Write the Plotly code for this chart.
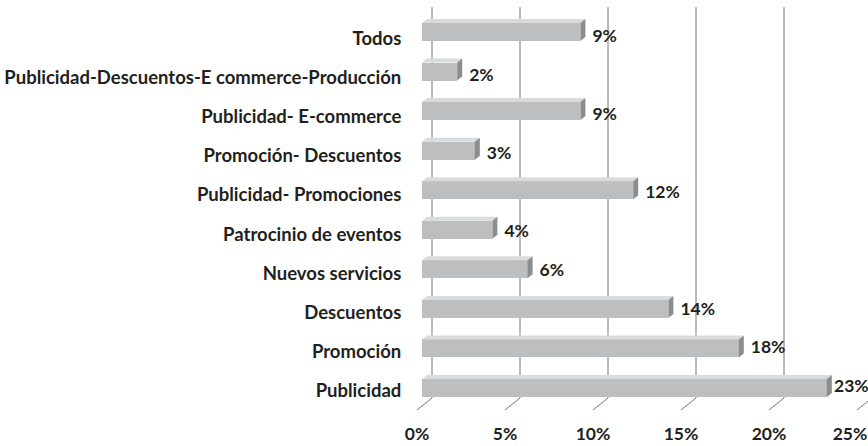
import plotly.graph_objects as go

# ---- data (bottom to top) ----
categories = ["Publicidad", "Promoción", "Descuentos", "Nuevos servicios",
              "Patrocinio de eventos", "Publicidad- Promociones",
              "Promoción- Descuentos", "Publicidad- E-commerce",
              "Publicidad-Descuentos-E commerce-Producción", "Todos"]
values = [23, 18, 14, 6, 4, 12, 3, 9, 2, 9]
value_labels = ["23%", "18%", "14%", "6%", "4%", "12%", "3%", "9%", "2%", "9%"]
tick_values = [0, 5, 10, 15, 20, 25]
tick_labels = ["0%", "5%", "10%", "15%", "20%", "25%"]

# ---- geometry / style (pixels) ----
W, H = 868, 446
ML, MB = 408, 36           # plot area: x 408..868, y 0..410
PX_PER_UNIT = 17.6         # px per 1 %
X0_PX = 422                # front face zero
ROW_PX = 39.56
ROW0_PX = 388              # centre of bottom bar front face
BAR_H_PX = 18
DEPTH_DX, DEPTH_DY = 5, 4  # bar depth in px
plot_w = W - ML
plot_h = H - MB

def xr(zero_px):
    return [(ML - zero_px) / PX_PER_UNIT, (W - zero_px) / PX_PER_UNIT]

def yr(row0_px, row_px):
    return [(row0_px - plot_h) / row_px, row0_px / row_px]

ddx = DEPTH_DX / PX_PER_UNIT
ddy = DEPTH_DY / ROW_PX
bw = BAR_H_PX / ROW_PX
ys = list(range(len(categories)))

FRONT = "#bdbec0"
TOP = "#dadbdc"
END = "#8b8c8e"
TXT = "#231f20"
FONT = "Lato"

fig = go.Figure()

# front faces
fig.add_trace(go.Bar(x=values, y=ys, orientation="h", width=bw,
                     marker=dict(color=FRONT, line=dict(width=0)),
                     hoverinfo="skip", showlegend=False))

# top faces and end faces
tx, ty, ex, ey = [], [], [], []
for v, y in zip(values, ys):
    t = y + bw / 2
    b = y - bw / 2
    tx += [0, v, v + ddx, ddx, 0, None]
    ty += [t, t, t + ddy, t + ddy, t, None]
    ex += [v, v + ddx, v + ddx, v, v, None]
    ey += [b, b + ddy, t + ddy, t, b, None]
fig.add_trace(go.Scatter(x=tx, y=ty, mode="lines", fill="toself", fillcolor=TOP,
                         line=dict(width=0, color=TOP), hoverinfo="skip", showlegend=False))
fig.add_trace(go.Scatter(x=ex, y=ey, mode="lines", fill="toself", fillcolor=END,
                         line=dict(width=0, color=END), hoverinfo="skip", showlegend=False))

# value labels (own vertical scale)
label_gap = 7 / PX_PER_UNIT
label_max = xr(X0_PX)[1] - 34 / PX_PER_UNIT
lx = [min(v + ddx + label_gap, label_max) for v in values]
fig.add_trace(go.Scatter(x=lx, y=ys, yaxis="y3", mode="text", text=value_labels,
                         textposition="middle right", cliponaxis=False,
                         textfont=dict(family=FONT, size=17.5, color=TXT, weight="bold"),
                         hoverinfo="skip", showlegend=False))

# category labels axis carrier
fig.add_trace(go.Scatter(x=[None] * len(ys), y=ys, yaxis="y2", mode="markers",
                         hoverinfo="skip", showlegend=False))

# x tick labels sit at the front edge of the floor; the last one is kept inside the page
tick_font = dict(family=FONT, size=17.5, color=TXT, weight="bold")
front_dx = -5 / PX_PER_UNIT
x_max = xr(X0_PX)[1]
tick_x = [min(v + front_dx, x_max - 18 / PX_PER_UNIT) for v in tick_values]
fig.add_trace(go.Scatter(x=tick_x, y=[0] * len(tick_values), yaxis="y4", mode="text",
                         text=tick_labels, textposition="middle center", cliponaxis=False,
                         textfont=tick_font, hoverinfo="skip", showlegend=False))

# gridlines: back wall + floor slant
back_dx = 10 / PX_PER_UNIT
y_top = (ROW0_PX - 7) / ROW_PX
y_back = (ROW0_PX - 398) / ROW_PX
y_front = (ROW0_PX - 410) / ROW_PX
shapes = []
for v in tick_values:
    shapes.append(dict(type="path", xref="x", yref="y", layer="below",
                       path=f"M {v+back_dx},{y_top} L {v+back_dx},{y_back} L {v+front_dx},{y_front}",
                       line=dict(color="#777777", width=1)))

fig.update_layout(
    template="none",
    width=W, height=H, margin=dict(l=ML, r=0, t=0, b=0, pad=0, autoexpand=False),
    plot_bgcolor="rgba(0,0,0,0)", paper_bgcolor="white",
    shapes=shapes, bargap=0,
    xaxis=dict(range=xr(X0_PX), showgrid=False, zeroline=False, showticklabels=False,
               showline=False, fixedrange=True, automargin=False, ticks=""),
    yaxis=dict(range=yr(ROW0_PX, ROW_PX), domain=[MB / H, 1], showgrid=False, zeroline=False,
               showticklabels=False, showline=False, automargin=False, ticks=""),
    yaxis2=dict(range=yr(391, 39.2), overlaying="y", side="left", anchor="x",
                showgrid=False, zeroline=False, showline=False, automargin=False,
                tickvals=ys, ticktext=categories, ticks="outside", ticklen=0,
                ticklabelstandoff=2,
                tickfont=dict(family=FONT, size=18.5, color=TXT, weight="bold")),
    yaxis3=dict(range=yr(388, 38.9), overlaying="y", showgrid=False, zeroline=False,
                showticklabels=False, showline=False, automargin=False, ticks=""),
    # strip below the plot for the x tick labels: value 0 sits at y = 436 px
    yaxis4=dict(range=[-(H - 436), 436 - (H - MB)], domain=[0, MB / H], anchor="x",
                showgrid=False, zeroline=False, showticklabels=False, showline=False,
                automargin=False, ticks=""),
)

fig.write_html("out.html", config={"displayModeBar": False},
               post_script="document.body.style.margin='0';document.body.style.overflow='hidden';")
